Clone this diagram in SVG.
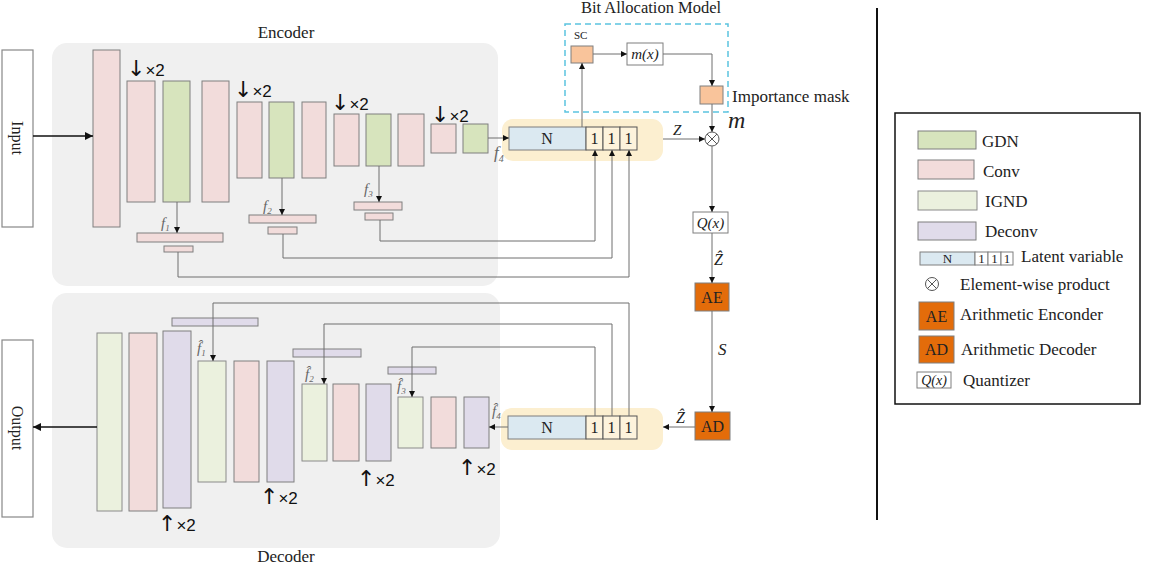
<svg xmlns="http://www.w3.org/2000/svg" width="1160" height="567" viewBox="0 0 1160 567">
<defs>
<marker id="ah" markerWidth="6" markerHeight="6" refX="6" refY="3" orient="auto" markerUnits="userSpaceOnUse"><path d="M0,0 L6,3 L0,6 z" fill="#111"/></marker>
<marker id="ahb" markerWidth="8" markerHeight="8" refX="8" refY="4" orient="auto" markerUnits="userSpaceOnUse"><path d="M0,0 L8,4 L0,8 z" fill="#111"/></marker>
<style>
.panel{fill:#f0f0f0;stroke:none}
.conv{fill:#f2dcdb;stroke:#7f7f7f;stroke-width:1}
.gdn{fill:#d7e4bd;stroke:#7f7f7f;stroke-width:1}
.ignd{fill:#ebf1de;stroke:#8a8a8a;stroke-width:1}
.deconv{fill:#e0dbea;stroke:#7f7f7f;stroke-width:1}
.lat{fill:#dbe9f1;stroke:#7f7f7f;stroke-width:1}
.one{fill:#fdf3dc;stroke:#555;stroke-width:1}
.hl{fill:#fcefd0;stroke:none}
.sc{fill:#f9c49b;stroke:#7f7f7f;stroke-width:1}
.ae{fill:#e36c0a;stroke:#7f7f7f;stroke-width:1}
.wbox{fill:#fff;stroke:#7f7f7f;stroke-width:1}
.io{fill:#fff;stroke:#888;stroke-width:1.2}
.ln{fill:none;stroke:#6e6e6e;stroke-width:1;marker-end:url(#ah)}
.t{font-family:"Liberation Serif","DejaVu Serif",serif;fill:#222}
.ti{font-family:"Liberation Serif","DejaVu Serif",serif;font-style:italic;fill:#222}
.fl{font-family:"Liberation Serif","DejaVu Serif",serif;font-style:italic;fill:#666}
.ar{font-family:"Liberation Sans","DejaVu Sans",sans-serif;fill:#111;font-size:17px}
.arw{font-family:"DejaVu Sans",sans-serif;font-size:22px;fill:#111}
</style>
</defs>

<!-- panels -->
<rect class="panel" x="52" y="43" width="446" height="243" rx="15"/>
<rect class="panel" x="52" y="293" width="448" height="255" rx="15"/>
<text class="t" x="286" y="38" font-size="17" text-anchor="middle">Encoder</text>
<text class="t" x="286" y="562" font-size="17" text-anchor="middle">Decoder</text>

<!-- highlights -->
<rect class="hl" x="502" y="119" width="161" height="42" rx="11"/>
<rect class="hl" x="501" y="408" width="162" height="42" rx="11"/>

<!-- input/output -->
<g id="input"><rect class="io" x="2" y="50" width="31" height="177"/><text class="t" x="17" y="138" font-size="16" text-anchor="middle" dominant-baseline="central" transform="rotate(90 17 138)">Input</text></g>
<g id="output"><rect class="io" x="2" y="340" width="31" height="177"/><text class="t" x="17" y="428" font-size="16" text-anchor="middle" dominant-baseline="central" transform="rotate(90 17 428)">Output</text></g>

<!-- encoder blocks -->
<g id="encoder">
<rect class="conv" x="93" y="50" width="27" height="177"/>
<rect class="conv" x="127" y="81" width="28" height="121"/>
<rect class="gdn" x="163" y="81" width="27" height="121"/>
<rect class="conv" x="202" y="81" width="27" height="121"/>
<rect class="conv" x="237" y="102" width="25" height="76"/>
<rect class="gdn" x="269" y="102" width="25" height="76"/>
<rect class="conv" x="302" y="102" width="24" height="76"/>
<rect class="conv" x="334" y="114" width="25" height="52"/>
<rect class="gdn" x="366" y="114" width="25" height="52"/>
<rect class="conv" x="398" y="114" width="26" height="52"/>
<rect class="conv" x="431" y="124" width="25" height="29"/>
<rect class="gdn" x="463" y="124" width="25" height="29"/>
<rect class="conv" x="137" y="233" width="86" height="9"/>
<rect class="conv" x="164" y="246" width="29" height="6"/>
<rect class="conv" x="249" y="215" width="67" height="8"/>
<rect class="conv" x="268" y="227" width="29" height="7"/>
<rect class="conv" x="354" y="202" width="48" height="8"/>
<rect class="conv" x="365" y="213" width="28" height="7"/>
<text class="ar" x="127" y="76"><tspan class="arw">↓</tspan>×2</text>
<text class="ar" x="234" y="97"><tspan class="arw">↓</tspan>×2</text>
<text class="ar" x="331" y="110"><tspan class="arw">↓</tspan>×2</text>
<text class="ar" x="431" y="122"><tspan class="arw">↓</tspan>×2</text>
<text class="fl" x="161" y="228" font-size="15">f<tspan font-size="9" dy="3">1</tspan></text>
<text class="fl" x="263" y="211" font-size="15">f<tspan font-size="9" dy="3">2</tspan></text>
<text class="fl" x="364" y="194" font-size="15">f<tspan font-size="9" dy="3">3</tspan></text>
<text class="fl" x="494" y="158" font-size="17">f<tspan font-size="10" dy="4">4</tspan></text>
</g>

<!-- encoder latent -->
<g id="latent-enc">
<rect class="lat" x="509" y="127" width="77" height="23"/>
<text class="t" x="547" y="144" font-size="16" text-anchor="middle">N</text>
<rect class="one" x="586" y="127" width="17" height="23"/>
<rect class="one" x="603" y="127" width="17" height="23"/>
<rect class="one" x="620" y="127" width="17" height="23"/>
<text class="t" x="594.5" y="144" font-size="16" text-anchor="middle">1</text>
<text class="t" x="611.5" y="144" font-size="16" text-anchor="middle">1</text>
<text class="t" x="628.5" y="144" font-size="16" text-anchor="middle">1</text>
</g>

<!-- bit allocation -->
<g id="bit-allocation">
<rect x="565" y="24" width="163" height="88" fill="none" stroke="#5bc3e0" stroke-width="1.5" stroke-dasharray="6,4"/>
<text class="t" x="651" y="13" font-size="16.5" text-anchor="middle">Bit Allocation Model</text>
<text class="t" x="574" y="39" font-size="11">SC</text>
</g>
<g id="sc"><rect class="sc" x="571" y="46" width="22" height="17"/></g>
<g id="mx"><rect class="wbox" x="627" y="43" width="36" height="22"/><text class="ti" x="645" y="59" font-size="15" text-anchor="middle">m(x)</text></g>
<g id="importance"><rect class="sc" x="700" y="86" width="23" height="18"/><text class="t" x="732" y="102" font-size="17">Importance mask</text></g>
<g id="product"><circle cx="712" cy="139" r="7" fill="#fff" stroke="#555" stroke-width="1"/><path d="M707,134 L717,144 M717,134 L707,144" stroke="#555" stroke-width="1"/></g>
<text class="ti" x="728" y="128" font-size="24">m</text>
<text class="ti" x="673" y="135" font-size="15">Z</text>
<g id="quant"><rect class="wbox" x="693" y="212" width="35" height="21"/><text class="ti" x="710.5" y="228" font-size="15" text-anchor="middle">Q(x)</text></g>
<text class="ti" x="714" y="265" font-size="16">Ẑ</text>
<g id="ae"><rect class="ae" x="695" y="283" width="34" height="28"/><text class="t" x="712" y="303" font-size="16" text-anchor="middle">AE</text></g>
<text class="ti" x="718" y="355" font-size="17">S</text>
<g id="ad"><rect class="ae" x="695" y="412" width="35" height="28"/><text class="t" x="712.5" y="432" font-size="16" text-anchor="middle">AD</text></g>
<text class="ti" x="676" y="423" font-size="16">Ẑ</text>

<!-- decoder latent -->
<g id="latent-dec">
<rect class="lat" x="508" y="416" width="78" height="23"/>
<text class="t" x="547" y="433" font-size="16" text-anchor="middle">N</text>
<rect class="one" x="586" y="416" width="17" height="23"/>
<rect class="one" x="603" y="416" width="17" height="23"/>
<rect class="one" x="620" y="416" width="17" height="23"/>
<text class="t" x="594.5" y="433" font-size="16" text-anchor="middle">1</text>
<text class="t" x="611.5" y="433" font-size="16" text-anchor="middle">1</text>
<text class="t" x="628.5" y="433" font-size="16" text-anchor="middle">1</text>
</g>

<!-- decoder blocks -->
<g id="decoder">
<rect class="ignd" x="97" y="333" width="25" height="178"/>
<rect class="conv" x="129" y="333" width="28" height="178"/>
<rect class="deconv" x="163" y="331" width="28" height="177"/>
<rect class="ignd" x="198" y="361" width="28" height="121"/>
<rect class="conv" x="234" y="361" width="25" height="121"/>
<rect class="deconv" x="267" y="361" width="27" height="121"/>
<rect class="ignd" x="302" y="384" width="25" height="77"/>
<rect class="conv" x="333" y="384" width="26" height="77"/>
<rect class="deconv" x="366" y="384" width="25" height="77"/>
<rect class="ignd" x="398" y="397" width="25" height="51"/>
<rect class="conv" x="431" y="397" width="25" height="51"/>
<rect class="deconv" x="464" y="397" width="25" height="51"/>
<rect class="deconv" x="172" y="318" width="86" height="8"/>
<rect class="deconv" x="293" y="349" width="68" height="8"/>
<rect class="deconv" x="388" y="367" width="48" height="7"/>
<text class="ar" x="158" y="531"><tspan class="arw">↑</tspan>×2</text>
<text class="ar" x="260" y="504"><tspan class="arw">↑</tspan>×2</text>
<text class="ar" x="357" y="486"><tspan class="arw">↑</tspan>×2</text>
<text class="ar" x="458" y="475"><tspan class="arw">↑</tspan>×2</text>
<text class="fl" x="197" y="353" font-size="15">f̂<tspan font-size="9" dy="3">1</tspan></text>
<text class="fl" x="305" y="379" font-size="15">f̂<tspan font-size="9" dy="3">2</tspan></text>
<text class="fl" x="397" y="391" font-size="15">f̂<tspan font-size="9" dy="3">3</tspan></text>
<text class="fl" x="492" y="416" font-size="15">f̂<tspan font-size="9" dy="3">4</tspan></text>
</g>

<!-- connectors -->
<g id="connectors">
<path d="M33,136 H93" fill="none" stroke="#111" stroke-width="1.5" marker-end="url(#ahb)"/>
<path d="M97,427 H33" fill="none" stroke="#111" stroke-width="1.5" marker-end="url(#ahb)"/>
<path class="ln" d="M177,202 V233"/>
<path class="ln" d="M282,178 V215"/>
<path class="ln" d="M379,166 V202"/>
<path class="ln" d="M178,252 V277 H629 V150"/>
<path class="ln" d="M283,234 V258 H612 V150"/>
<path class="ln" d="M380,220 V241 H595 V150"/>
<path class="ln" d="M488,138 H509"/>
<path class="ln" d="M582,127 V63"/>
<path class="ln" d="M593,54 H627"/>
<path class="ln" d="M663,54 H712 V86"/>
<path class="ln" d="M712,104 V132"/>
<path class="ln" d="M663,139 H705"/>
<path class="ln" d="M712,146 V212"/>
<path class="ln" d="M712,233 V283"/>
<path class="ln" d="M712,311 V412"/>
<path class="ln" d="M695,427 H663"/>
<path class="ln" d="M508,427 H489"/>
<path class="ln" d="M595,416 V347 H412 V397"/>
<path class="ln" d="M612,416 V324 H324 V384"/>
<path class="ln" d="M629,416 V303 H213 V361"/>
</g>

<!-- separator -->
<line x1="877" y1="8" x2="877" y2="520" stroke="#111" stroke-width="2"/>

<!-- legend -->
<g id="legend">
<rect x="895" y="113" width="245" height="291" fill="#fff" stroke="#111" stroke-width="1.5"/>
<rect class="gdn" x="918" y="131" width="58" height="18"/><text class="t" x="982" y="147" font-size="17">GDN</text>
<rect class="conv" x="918" y="160" width="56" height="19"/><text class="t" x="983" y="177" font-size="17">Conv</text>
<rect class="ignd" x="918" y="191" width="59" height="19"/><text class="t" x="985" y="207" font-size="17">IGND</text>
<rect class="deconv" x="918" y="222" width="58" height="18"/><text class="t" x="985" y="237" font-size="17">Deconv</text>
<rect class="lat" x="920" y="252" width="55" height="13"/><text class="t" x="947.5" y="263" font-size="13" text-anchor="middle">N</text>
<rect class="wbox" x="975" y="252" width="13" height="13"/><rect class="wbox" x="988" y="252" width="13" height="13"/><rect class="wbox" x="1001" y="252" width="12" height="13"/>
<text class="t" x="981.5" y="263" font-size="13" text-anchor="middle">1</text><text class="t" x="994.5" y="263" font-size="13" text-anchor="middle">1</text><text class="t" x="1007" y="263" font-size="13" text-anchor="middle">1</text>
<text class="t" x="1021" y="262" font-size="17">Latent variable</text>
<circle cx="932" cy="284" r="6.5" fill="#fff" stroke="#555" stroke-width="1"/><path d="M927.4,279.4 L936.6,288.6 M936.6,279.4 L927.4,288.6" stroke="#555" stroke-width="1"/>
<text class="t" x="960" y="290" font-size="17">Element-wise product</text>
<rect class="ae" x="919" y="302" width="35" height="28"/><text class="t" x="936.5" y="322" font-size="16" text-anchor="middle">AE</text>
<text class="t" x="960" y="320" font-size="17">Arithmetic Enconder</text>
<rect class="ae" x="919" y="336" width="35" height="27"/><text class="t" x="936.5" y="355" font-size="16" text-anchor="middle">AD</text>
<text class="t" x="961" y="355" font-size="17">Arithmetic Decoder</text>
<rect class="wbox" x="917" y="372" width="34" height="16"/><text class="ti" x="934" y="385" font-size="14" text-anchor="middle">Q(x)</text>
<text class="t" x="963" y="386" font-size="17">Quantizer</text>
</g>
</svg>
